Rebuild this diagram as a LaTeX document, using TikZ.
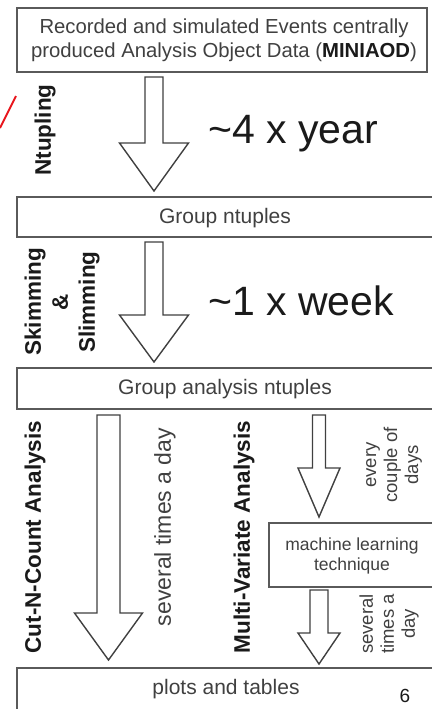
\documentclass[tikz,border=0pt]{standalone}
\usepackage{fontspec}
\setmainfont{Liberation Sans}
\definecolor{boxline}{HTML}{5A5A5A}
\definecolor{ink}{HTML}{404040}
\definecolor{darkink}{HTML}{1A1A1A}
\definecolor{penred}{HTML}{E8141B}

% hollow block arrow pointing down: centre x, shaft top, head base, tip, half shaft width, half head width
\newcommand{\downblock}[6]{%
  \draw[blockarrow] (#1-#5,#2) -- (#1+#5,#2) -- (#1+#5,#3) -- (#1+#6,#3)
    -- (#1,#4) -- (#1-#6,#3) -- (#1-#5,#3) -- cycle;}

\begin{document}
\begin{tikzpicture}[x=1pt,y=-1pt,
  framebox/.style={draw=boxline,line width=1.7pt},
  blockarrow/.style={draw=ink,line width=1.4pt,line join=miter,fill=white},
  boxtext/.style={text=ink,font=\fontsize{21}{24}\selectfont,align=center,inner sep=0pt},
  bigtext/.style={text=darkink,font=\fontsize{41}{44}\selectfont,inner sep=0pt},
  steplabel/.style={text=darkink,font=\bfseries\fontsize{22.5}{27}\selectfont,rotate=90,align=center,inner sep=0pt},
  ratelabel/.style={text=ink,font=\fontsize{23}{26}\selectfont,rotate=90,align=center,inner sep=0pt},
  smallrate/.style={text=ink,font=\fontsize{18.5}{21}\selectfont,rotate=90,align=center,inner sep=0pt}]
\useasboundingbox (0,0) rectangle (431,709);
\fill[white] (0,0) rectangle (431,709);

% boxes (all but the first run past the right edge)
\draw[framebox] (17,8) rectangle (427,72);
\draw[framebox] (17,197) rectangle (445,237);
\draw[framebox] (17,368) rectangle (445,409);
\draw[framebox] (269,523) rectangle (445,587);
\draw[framebox] (17,668) rectangle (445,720);

\node[boxtext,font=\fontsize{20.3}{24}\selectfont] (miniaod) at (224,40) {Recorded and simulated Events centrally\\produced Analysis Object Data (\textbf{\color{darkink}MINIAOD})};
\node[boxtext] (groupnt) at (225,218) {Group ntuples};
\node[boxtext] (groupana) at (225,389) {Group analysis ntuples};
\node[boxtext,font=\fontsize{17.5}{20}\selectfont] (mlt) at (352,556) {machine learning\\technique};
\node[boxtext] (plots) at (226,689) {plots and tables};

% block arrows between the stages
\downblock{154}{77}{143}{191}{9}{34.5}
\downblock{154}{242}{315}{362}{9}{34.5}
\downblock{108.5}{415}{613}{660}{11.5}{34}
\downblock{319}{415}{468}{517}{6.5}{21}
\downblock{319}{590}{633}{664}{9}{21}

% step names and rates
\node[steplabel] (ntupling) at (45,130) {Ntupling};
\node[bigtext,anchor=west] (rate1) at (208,134) {\textasciitilde 4 x year};
\node[steplabel] (skim) at (62,302) {Skimming\\\&\\Slimming};
\node[bigtext,anchor=west] (rate2) at (208,301) {\textasciitilde 1 x week};
\node[steplabel] (cnc) at (35,537) {Cut-N-Count Analysis};
\node[ratelabel] (rate3) at (165,527) {several times a day};
\node[steplabel] (mva) at (244,537) {Multi-Variate Analysis};
\node[smallrate] (rate4) at (394,465) {every\\couple of\\days};
\node[smallrate] (rate5) at (389,624) {several\\times a\\day};

% page number
\node[text=darkink,font=\fontsize{19}{21}\selectfont,anchor=north,inner sep=0pt] (page) at (405,689) {6};

% red pen stroke
\draw[penred,line width=2pt] (0,128) -- (16,96);
\end{tikzpicture}
\end{document}
